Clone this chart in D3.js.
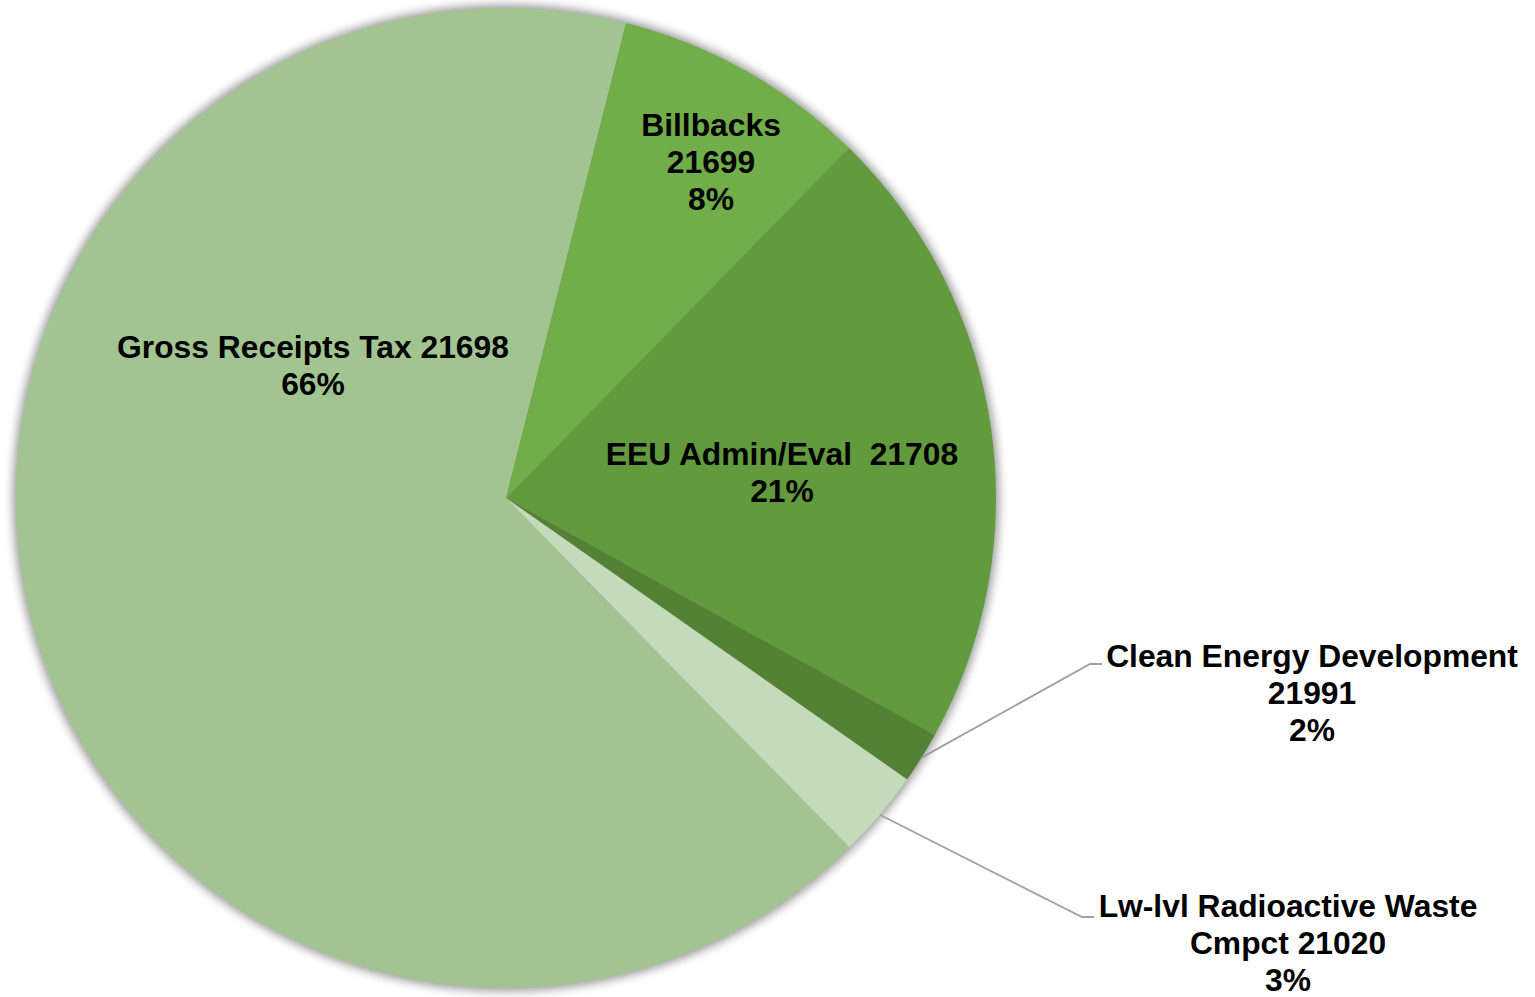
<!DOCTYPE html>
<html>
<head>
<meta charset="utf-8">
<script src="https://cdn.jsdelivr.net/npm/d3@7"></script>
<style>
  html, body { margin: 0; padding: 0; background: #fff; }
  svg { display: block; }
  .slice-label { font-family: "Liberation Sans", Arial, sans-serif; font-weight: bold; font-size: 31.8px; fill: #000; white-space: pre; }
</style>
</head>
<body>
<div class="chart"></div>
<script>
// ---------- data
var categories = ["Gross Receipts Tax", "Billbacks", "EEU Admin/Eval ", "Clean Energy Development", "Lw-lvl Radioactive Waste Cmpct"];
var codes = ["21698", "21699", "21708", "21991", "21020"];
var shares = [66.3, 8.4, 20.7, 1.7, 2.9];
var colors = ["#a2c491", "#71ad48", "#629b3d", "#548235", "#c5dabb"];

// label lines, as drawn by the original (text rows per slice)
var labelLines = [
  [categories[0] + " " + codes[0]],
  [categories[1], codes[1]],
  [categories[2] + " " + codes[2]],
  ["Clean Energy Development", codes[3]],
  ["Lw-lvl Radioactive Waste", "Cmpct " + codes[4]]
];

// ---------- layout
var width = 1535, height = 997;
var cx = 506, cy = 498, radius = 490;
var lineHeight = 37;
var rad = Math.PI / 180;
var startDeg = 135.5;

// label anchor: centre x and first baseline y
var labelPos = [
  { x: 313, y: 358 },
  { x: 711, y: 136 },
  { x: 782, y: 465 },
  { x: 1312, y: 667 },
  { x: 1288, y: 917 }
];
// outside labels get a leader line: elbow and end of the short flat piece
var leaders = [null, null, null,
  { elbow: [1090, 664], end: [1102, 664] },
  { elbow: [1082, 917], end: [1094, 917] }
];

var pct = d3.format(".0f");

var pie = d3.pie()
  .sort(null)
  .value(d => d)
  .startAngle(startDeg * rad)
  .endAngle(startDeg * rad + 2 * Math.PI);

var arcs = pie(shares);

var arc = d3.arc().innerRadius(0).outerRadius(radius);
var edgeArc = d3.arc().innerRadius(radius).outerRadius(radius);

var svg = d3.select("div.chart")
  .append("svg")
  .attr("width", width)
  .attr("height", height);

var defs = svg.append("defs");
defs.append("filter")
  .attr("id", "shadow")
  .attr("x", "-10%").attr("y", "-10%")
  .attr("width", "120%").attr("height", "120%")
  .append("feGaussianBlur")
  .attr("stdDeviation", 5);

var g = svg.append("g").attr("transform", `translate(${cx}, ${cy})`);

// soft shadow round the pie
g.append("circle")
  .attr("r", radius + 3)
  .attr("fill", "#6e6e6e")
  .attr("opacity", 0.7)
  .attr("filter", "url(#shadow)");

g.selectAll("path.slice")
  .data(arcs)
  .enter()
  .append("path")
  .classed("slice", true)
  .attr("d", arc)
  .attr("fill", (d, i) => colors[i]);

// leader lines
svg.selectAll("polyline.leader")
  .data(arcs.filter((d, i) => leaders[i]))
  .enter()
  .append("polyline")
  .classed("leader", true)
  .attr("points", d =>
  {
    var i = d.index;
    var c = edgeArc.centroid(d);
    var p = [[cx + c[0], cy + c[1]], leaders[i].elbow, leaders[i].end];
    return p.map(q => q.join(",")).join(" ");
  })
  .attr("fill", "none")
  .attr("stroke", "#a0a0a0")
  .attr("stroke-width", 1.8);

// labels
var labels = svg.selectAll("text.slice-label")
  .data(arcs)
  .enter()
  .append("text")
  .classed("slice-label", true)
  .attr("text-anchor", "middle")
  .attr("x", d => labelPos[d.index].x)
  .attr("y", d => labelPos[d.index].y);

labels.each(function(d)
{
  var self = d3.select(this);
  var rows = labelLines[d.index].concat([pct(d.data) + "%"]);
  rows.forEach((r, k) =>
  {
    self.append("tspan")
      .attr("x", labelPos[d.index].x)
      .attr("dy", k === 0 ? 0 : lineHeight)
      .text(r);
  });
});
</script>
</body>
</html>
